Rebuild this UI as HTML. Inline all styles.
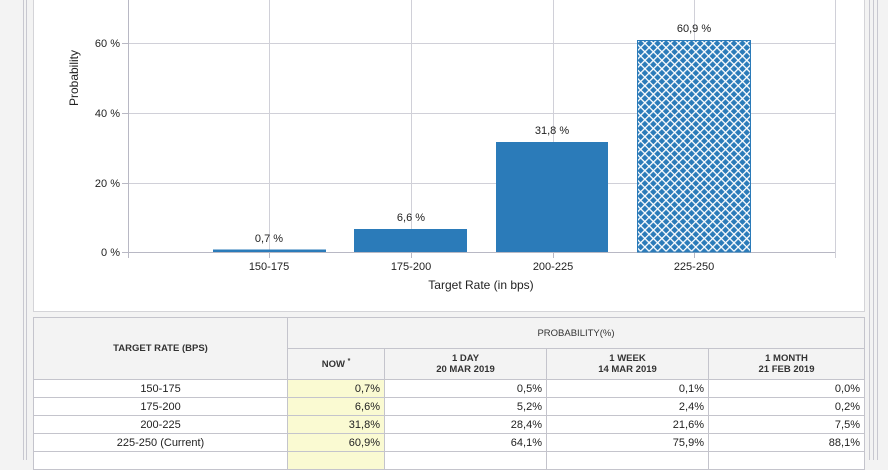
<!DOCTYPE html>
<html><head><style>
body{margin:0;width:888px;height:460px;overflow:hidden;background:#f3f3f3;font-family:"Liberation Sans",Arial,sans-serif;position:relative}
.v{position:absolute;top:0;height:460px;width:1px;background:#c8c8d0}
table{position:absolute;left:33px;top:317px;border-collapse:collapse;font-size:11px;color:#222;table-layout:fixed}
td,th{border:1px solid #c4c4cc;padding:0 4px;}
th{background:#f3f3f3;font-weight:bold;font-size:9.5px;color:#333;}
td{background:#fff;height:17px;text-align:right}
td.c{text-align:center}
td.y{background:#fafad2}
</style></head><body>
<div class="v" style="left:23px"></div><div class="v" style="left:26px"></div>
<div class="v" style="left:869px"></div><div class="v" style="left:873px"></div><div class="v" style="left:877px"></div>
<div style="position:absolute;left:33px;top:-1px;width:830px;height:311px;background:#fff;border:1px solid #d4d4d8"></div>
<svg style="position:absolute;left:0;top:0" width="888" height="312" font-family="Liberation Sans, Arial, sans-serif" font-size="11" fill="#222">
<defs><pattern id="p" width="6" height="6" patternUnits="userSpaceOnUse" patternTransform="rotate(45)">
<rect width="6" height="6" fill="#2b7bb9"/><rect width="1.3" height="6" fill="#fff"/><rect width="6" height="1.3" fill="#fff"/></pattern></defs>
<g stroke="#d0d0d8" stroke-width="1">
<line x1="128" y1="43.5" x2="835" y2="43.5"/><line x1="128" y1="113.5" x2="835" y2="113.5"/><line x1="128" y1="183.5" x2="835" y2="183.5"/>
<line x1="269.5" y1="0" x2="269.5" y2="252"/><line x1="411.5" y1="0" x2="411.5" y2="252"/><line x1="553.5" y1="0" x2="553.5" y2="252"/><line x1="694.5" y1="0" x2="694.5" y2="252"/><line x1="835.5" y1="0" x2="835.5" y2="258"/>
</g>
<g stroke="#b8b8c4"><line x1="128.5" y1="0" x2="128.5" y2="258"/><line x1="122" y1="252.5" x2="835" y2="252.5"/>
<line x1="122" y1="43.5" x2="128" y2="43.5"/><line x1="122" y1="113.5" x2="128" y2="113.5"/><line x1="122" y1="183.5" x2="128" y2="183.5"/>
<line x1="269.5" y1="252" x2="269.5" y2="258"/><line x1="411.5" y1="252" x2="411.5" y2="258"/><line x1="553.5" y1="252" x2="553.5" y2="258"/><line x1="694.5" y1="252" x2="694.5" y2="258"/></g>
<rect x="213" y="249.5" width="113" height="2.5" fill="#2b7bb9"/>
<rect x="354" y="229" width="113" height="23" fill="#2b7bb9"/>
<rect x="496" y="142" width="112" height="110" fill="#2b7bb9"/>
<rect x="637.5" y="40.5" width="113" height="211.5" fill="url(#p)" stroke="#2b7bb9"/>
<g text-anchor="middle"><text x="269" y="242">0,7 %</text><text x="411" y="221">6,6 %</text><text x="552" y="134">31,8 %</text><text x="694" y="32">60,9 %</text>
<text x="269" y="270">150-175</text><text x="411" y="270">175-200</text><text x="553" y="270">200-225</text><text x="694" y="270">225-250</text>
<text x="481" y="289" font-size="12">Target Rate (in bps)</text>
<text transform="translate(78,78) rotate(-90)" font-size="12">Probability</text></g>
<g text-anchor="end"><text x="120" y="47">60 %</text><text x="120" y="117">40 %</text><text x="120" y="187">20 %</text><text x="120" y="256">0 %</text></g>
</svg>
<table>
<colgroup><col style="width:254px"><col style="width:97px"><col style="width:162px"><col style="width:162px"><col style="width:156px"></colgroup>
<tr style="height:31px"><th rowspan="2">TARGET RATE (BPS)</th><th colspan="4" style="font-weight:normal">PROBABILITY(%)</th></tr>
<tr style="height:31px"><th>NOW <sup style="font-size:7px">*</sup></th><th>1 DAY<br>20 MAR 2019</th><th>1 WEEK<br>14 MAR 2019</th><th>1 MONTH<br>21 FEB 2019</th></tr>
<tr><td class="c">150-175</td><td class="y">0,7%</td><td>0,5%</td><td>0,1%</td><td>0,0%</td></tr>
<tr><td class="c">175-200</td><td class="y">6,6%</td><td>5,2%</td><td>2,4%</td><td>0,2%</td></tr>
<tr><td class="c">200-225</td><td class="y">31,8%</td><td>28,4%</td><td>21,6%</td><td>7,5%</td></tr>
<tr><td class="c">225-250 (Current)</td><td class="y">60,9%</td><td>64,1%</td><td>75,9%</td><td>88,1%</td></tr>
<tr><td class="c">&nbsp;</td><td class="y"></td><td></td><td></td><td></td></tr>
</table>
</body></html>
